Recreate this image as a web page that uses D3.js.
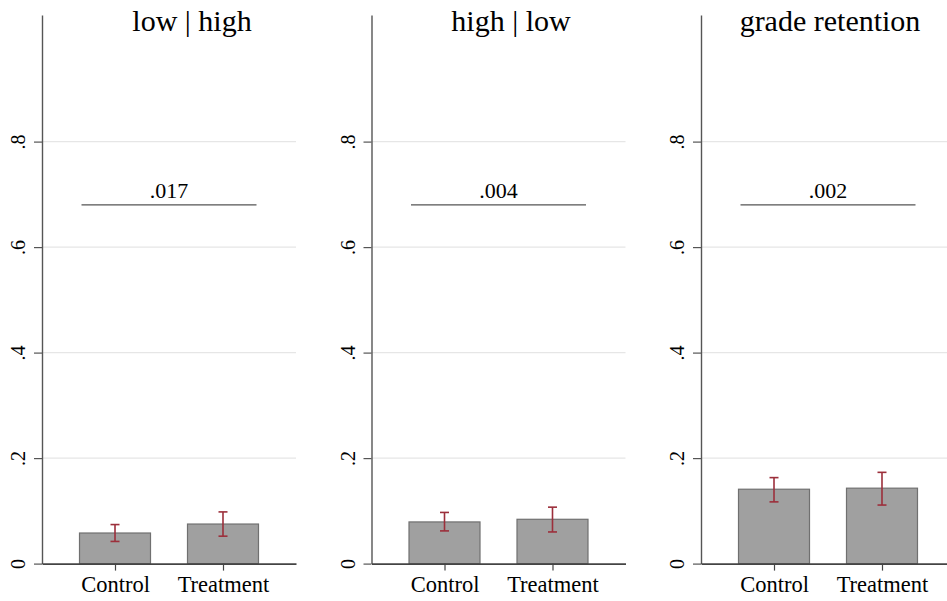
<!DOCTYPE html>
<html>
<head>
<meta charset="utf-8">
<script src="https://cdn.jsdelivr.net/npm/d3@7"></script>
<style>
  body { margin: 0; background: #fff; }
  svg { display: block; font-family: "Liberation Serif", "Times New Roman", serif; }
</style>
</head>
<body>
<svg id="chart" width="947" height="601"></svg>
<script>
// data
var panels = ["low | high", "high | low", "grade retention"];
var groups = ["Control", "Treatment"];
var means = [[0.058, 0.075], [0.079, 0.084], [0.141, 0.143]];
var lower = [[0.042, 0.052], [0.062, 0.060], [0.117, 0.111]];
var upper = [[0.074, 0.098], [0.097, 0.107], [0.163, 0.173]];
var pValues = [".017", ".004", ".002"];
var bracketLevel = [0.68, 0.68, 0.68];
var yTicks = [0, 0.2, 0.4, 0.6, 0.8];
var yTickLabels = ["0", ".2", ".4", ".6", ".8"];

var svg = d3.select("#chart");
var serif = '"Liberation Serif", "Times New Roman", serif';
var plotW = 254;

var y = d3.scaleLinear().domain([0, 1.04]).range([563.6, 15]);
var x = d3.scalePoint().domain(groups).range([0, plotW]).padding(0.676);
var barW = 71;

panels.forEach(function (title, p) {
    var left = 42 + p * 329.5;
    var g = svg.append("g").attr("transform", "translate(" + left + ",0)");

    // gridlines
    g.selectAll(".grid")
        .data(yTicks.filter(function (d) { return d > 0; }))
        .enter().append("line")
        .attr("x1", 0).attr("x2", plotW)
        .attr("y1", function (d) { return y(d); })
        .attr("y2", function (d) { return y(d); })
        .attr("stroke", "#e6e6e6").attr("stroke-width", 1.2);

    // y axis
    var yAxis = d3.axisLeft(y).tickValues(yTicks)
        .tickFormat(function (d, i) { return yTickLabels[i]; })
        .tickSize(8).tickSizeOuter(0);
    var ya = g.append("g").call(yAxis).attr("font-family", serif);
    ya.select(".domain").attr("stroke", "#555").attr("stroke-width", 1.4);
    ya.selectAll(".tick line").attr("stroke", "#555").attr("stroke-width", 1.2);
    ya.selectAll(".tick text")
        .attr("font-size", 20).attr("fill", "#000")
        .attr("text-anchor", "middle")
        .attr("dy", 0).attr("x", 0)
        .attr("transform", "translate(-17,0) rotate(-90)");

    // bars
    g.selectAll(".bar")
        .data(groups)
        .enter().append("rect")
        .attr("x", function (d) { return x(d) - barW / 2; })
        .attr("width", barW)
        .attr("y", function (d, i) { return y(means[p][i]); })
        .attr("height", function (d, i) { return y(0) - y(means[p][i]); })
        .attr("fill", "#a0a0a0")
        .attr("stroke", "#707070").attr("stroke-width", 1.2);

    // error bars
    var eb = g.selectAll(".err").data(groups).enter().append("g")
        .attr("stroke", "#9c2f3b").attr("stroke-width", 1.6).attr("fill", "none");
    eb.append("line")
        .attr("x1", function (d) { return x(d); })
        .attr("x2", function (d) { return x(d); })
        .attr("y1", function (d, i) { return y(lower[p][i]); })
        .attr("y2", function (d, i) { return y(upper[p][i]); });
    eb.append("line")
        .attr("x1", function (d) { return x(d) - 4.5; })
        .attr("x2", function (d) { return x(d) + 4.5; })
        .attr("y1", function (d, i) { return y(lower[p][i]); })
        .attr("y2", function (d, i) { return y(lower[p][i]); });
    eb.append("line")
        .attr("x1", function (d) { return x(d) - 4.5; })
        .attr("x2", function (d) { return x(d) + 4.5; })
        .attr("y1", function (d, i) { return y(upper[p][i]); })
        .attr("y2", function (d, i) { return y(upper[p][i]); });

    // x axis
    var xAxis = d3.axisBottom(x).tickSize(7).tickSizeOuter(0);
    var xa = g.append("g").attr("transform", "translate(0," + y(0) + ")").call(xAxis)
        .attr("font-family", serif);
    xa.select(".domain").attr("stroke", "#444").attr("stroke-width", 1.6);
    xa.selectAll(".tick line").attr("stroke", "#444").attr("stroke-width", 1.2);
    xa.selectAll(".tick text")
        .attr("font-size", 22.5).attr("fill", "#000")
        .attr("y", 0).attr("dy", 0)
        .attr("transform", "translate(0,28.5)");

    // bracket with p-value
    var x0 = x(groups[0]) - barW / 2 + 2, x1 = x(groups[1]) + barW / 2 - 2;
    g.append("line")
        .attr("x1", x0).attr("x2", x1)
        .attr("y1", y(bracketLevel[p])).attr("y2", y(bracketLevel[p]))
        .attr("stroke", "#555").attr("stroke-width", 1.1);
    g.append("text")
        .attr("x", (x0 + x1) / 2).attr("y", y(bracketLevel[p]) - 6.5)
        .attr("text-anchor", "middle").attr("font-size", 22)
        .attr("font-family", serif)
        .text(pValues[p]);

    // title
    svg.append("text")
        .attr("x", 192 + p * 319).attr("y", 31)
        .attr("text-anchor", "middle").attr("font-size", 30)
        .attr("font-family", serif)
        .text(title);
});
</script>
</body>
</html>
